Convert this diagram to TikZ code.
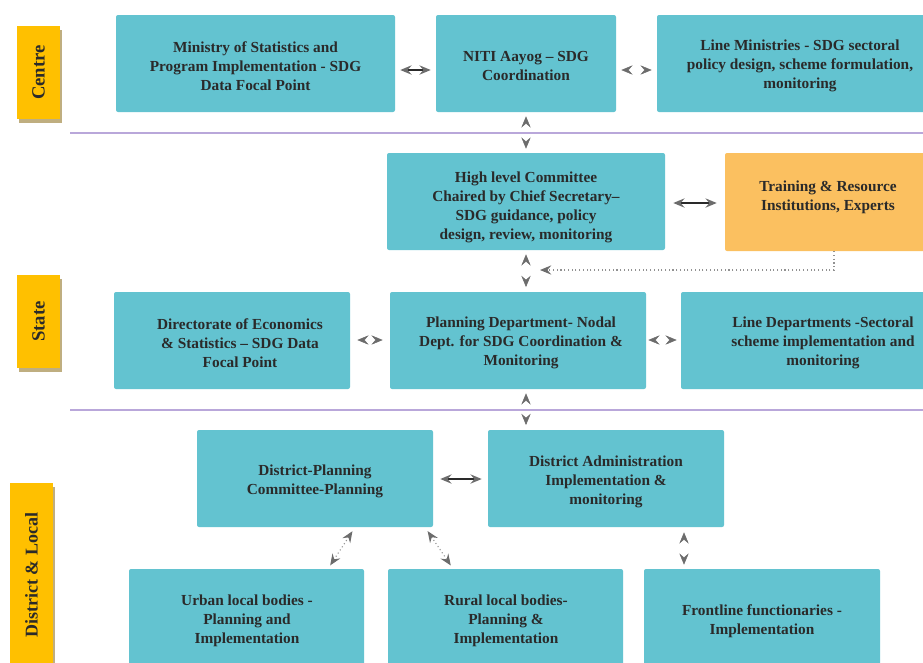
\documentclass[tikz,border=0pt]{standalone}
\usepackage{fontspec}
\setmainfont{Liberation Serif}
\usetikzlibrary{arrows.meta,fit}

\definecolor{boxteal}{HTML}{63C3D0}
\definecolor{boxorange}{HTML}{FBC060}
\definecolor{tabgold}{HTML}{FFC000}
\definecolor{tabshadow}{HTML}{BFAE80}
\definecolor{sepline}{HTML}{B9A7DA}
\definecolor{tipgray}{HTML}{6C6C6C}
\definecolor{inkdark}{HTML}{2A2A2A}

\begin{document}
\begin{tikzpicture}[x=0.75pt,y=-0.75pt,
  >={Stealth[length=8.5pt,width=7pt,inset=3pt,color=tipgray]},
  box/.style={fill=boxteal, draw=none, rounded corners=1.5pt, inner sep=0pt},
  obox/.style={box, fill=boxorange},
  txt/.style={font=\fontsize{11.5}{14.25}\selectfont\bfseries, align=center,
              text=inkdark, inner sep=0pt},
  tab/.style={fill=tabgold, inner sep=0pt},
  tabshade/.style={fill=tabshadow, inner sep=0pt},
  tabtxt/.style={rotate=90, text=inkdark, inner sep=0pt,
                 font=\fontsize{14}{16}\selectfont\bfseries},
  dbl/.style={<->, draw=inkdark, line width=1.1pt},
  ghost/.style={<->, draw=white, line width=0.4pt},
  dotconn/.style={draw=tipgray!75, dotted, line width=0.8pt},
  sep/.style={draw=sepline, line width=1.5pt}
]
\useasboundingbox (0,0) rectangle (923,662);
\clip (0,0) rectangle (923,662);

% level tabs on the left
\node[tabshade, fit={(19,30)(62,123)}] (centre-sh) {};
\node[tab, fit={(17,26)(60,119)}] (centre-tab) {};
\node[tabtxt] (centre-lbl) at (centre-tab.center) {Centre};

\node[tabshade, fit={(19,279)(62,372)}] (state-sh) {};
\node[tab, fit={(17,275)(60,368)}] (state-tab) {};
\node[tabtxt] (state-lbl) at (state-tab.center) {State};

\node[tabshade, fit={(12,487)(55,672)}] (dist-sh) {};
\node[tab, fit={(10,483)(53,667)}] (dist-tab) {};
\node[tabtxt, font=\fontsize{13.5}{16}\selectfont\bfseries] (dist-lbl) at (dist-tab.center) {District \& Local};

% centre level
\node[box, fit={(116,15)(395,112)}] (min) {};
\node[txt] (min-t) at (255.5,66) {Ministry of Statistics and\\Program Implementation - SDG\\Data Focal Point};
\node[box, fit={(436,15)(616,112)}] (niti) {};
\node[txt] (niti-t) at (526,66) {NITI Aayog -- SDG\\Coordination};
\node[box, fit={(657,15)(943,112)}] (lmin) {};
\node[txt] (lmin-t) at (800,66) {Line Ministries - SDG sectoral\\policy design, scheme formulation,\\monitoring};

% state level
\node[box, fit={(387,153)(665,250)}] (hlc) {};
\node[txt] (hlc-t) at (526,207.5) {High level Committee\\Chaired by Chief Secretary--\\SDG guidance, policy\\design, review, monitoring};
\node[obox, fit={(725,153)(931,251)}] (trn) {};
\node[txt] (trn-t) at (828,197) {Training \& Resource\\Institutions, Experts};

\node[box, fit={(114,292)(350,389)}] (doe) {};
\node[txt] (doe-t) at (240,343) {Directorate of Economics\\\& Statistics -- SDG Data\\Focal Point};
\node[box, fit={(390,292)(646,389)}] (plan) {};
\node[txt] (plan-t) at (521,343) {Planning Department- Nodal\\Dept. for SDG Coordination \&\\Monitoring};
\node[box, fit={(681,292)(965,389)}] (ldep) {};
\node[txt] (ldep-t) at (823,343) {Line Departments -Sectoral\\scheme implementation and\\monitoring};

% district and local level
\node[box, fit={(197,430)(433,527)}] (dpc) {};
\node[txt] (dpc-t) at (315,481) {District-Planning\\Committee-Planning};
\node[box, fit={(488,430)(724,527)}] (dadm) {};
\node[txt] (dadm-t) at (606,482) {District Administration\\Implementation \&\\monitoring};

\node[box, fit={(129,569)(364,666)}] (ulb) {};
\node[txt] (ulb-t) at (247,621) {Urban local bodies -\\Planning and\\Implementation};
\node[box, fit={(388,569)(623,666)}] (rlb) {};
\node[txt] (rlb-t) at (506,621) {Rural local bodies-\\Planning \&\\Implementation};
\node[box, fit={(644,569)(880,666)}] (ffn) {};
\node[txt] (ffn-t) at (762,621) {Frontline functionaries -\\Implementation};

% connectors shown only by their heads
\draw[ghost, shorten <=3.75pt, shorten >=3.75pt] (niti.east |- 0,70) -- (lmin.west |- 0,70);
\draw[ghost, shorten <=3pt, shorten >=3pt] (niti.south -| 526,0) -- (hlc.north -| 526,0);
\draw[ghost, shorten <=3pt, shorten >=3.5pt] (hlc.south -| 526,0) -- (plan.north -| 526,0);
\draw[ghost, shorten <=5.25pt, shorten >=5.25pt] (doe.east |- 0,340) -- (plan.west |- 0,340);
\draw[ghost, shorten <=1.5pt, shorten >=3pt] (plan.east |- 0,340) -- (ldep.west |- 0,340);
\draw[ghost, shorten <=3pt, shorten >=3.5pt] (plan.south -| 526,0) -- (dadm.north -| 526,0);
\draw[ghost, shorten <=3.75pt, shorten >=3pt] (dadm.south -| 684,0) -- (ffn.north -| 684,0);

% connectors with a solid shaft
\draw[dbl, shorten <=3.75pt, shorten >=3.75pt] (min.east |- 0,70) -- (niti.west |- 0,70);
\draw[dbl, shorten <=6pt, shorten >=6pt] (hlc.east |- 0,203) -- (trn.west |- 0,203);
\draw[dbl, shorten <=5.25pt, shorten >=4.5pt] (dpc.east |- 0,479) -- (dadm.west |- 0,479);

% dotted connectors
\coordinate (fb) at (540,270);
\draw[dotconn, ->] (trn.south -| 834,0) |- (fb);
\draw[dotconn, <->, shorten <=3.5pt, shorten >=3pt] (dpc.south -| 355,0) -- (ulb.north -| 328,0);
\draw[dotconn, <->, shorten <=3.5pt, shorten >=3pt] (dpc.south -| 425,0) -- (rlb.north -| 453,0);

% separators between levels
\draw[sep] (70,133) -- (923,133);
\draw[sep] (70,410) -- (923,410);
\end{tikzpicture}
\end{document}
